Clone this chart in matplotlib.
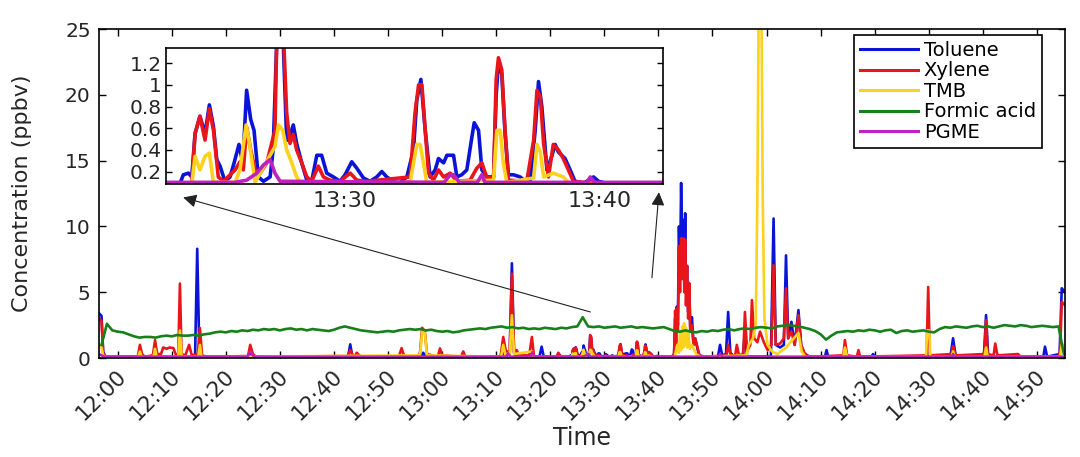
import numpy as np
import matplotlib.pyplot as plt
import matplotlib.transforms as mtransforms
from matplotlib.ticker import MultipleLocator, FixedLocator, FuncFormatter

toluene_min = [-3.46, -3.0, -2.7, -2.3, 3.8, 4.1, 4.4, 14.3, 14.7, 15.1, 15.5, 24.1, 24.5, 24.9, 42.6,
               43.0, 43.4, 56.1, 56.5, 56.9, 59.3, 59.6, 59.9, 70.9, 71.3, 71.7, 72.5, 72.9, 73.3, 73.7,
               76.3, 76.6, 76.9, 78.0, 78.4, 78.8, 81.2, 81.5, 81.8,
               83.00, 83.55, 83.68, 83.88, 84.01, 84.14, 84.33, 84.53, 84.70, 84.86, 84.99, 85.12, 85.31,
               85.51, 85.67, 85.86, 86.01, 86.16, 86.32, 86.45, 86.62, 86.82, 87.08, 87.20, 87.37, 87.58,
               87.73, 87.80, 87.99, 88.12, 88.32, 88.52, 88.71, 88.91, 89.10, 89.30, 89.56, 89.82, 90.02,
               90.28, 90.48, 90.74, 91.00, 91.26, 91.46, 91.65, 91.92, 92.11, 92.44, 92.70, 92.83, 92.99,
               93.16, 93.35, 93.55, 93.68, 93.88, 94.01, 94.27, 94.40, 94.59, 94.79, 94.99, 95.08, 95.25,
               95.38, 95.58, 95.84, 95.94, 96.03, 96.16, 96.29, 96.42, 96.62, 96.88, 97.08, 97.27, 97.47,
               97.60, 97.73, 97.93, 98.12, 98.25, 98.38, 98.64, 98.84, 99.03, 99.36, 99.76, 99.95, 100.29,
               102.48, 102.9, 103.1, 103.25, 103.4, 103.6, 103.8, 104.0, 104.2, 104.4, 104.6, 104.8,
               104.95, 105.1, 105.3, 105.5, 105.7, 105.9, 106.2, 106.5, 106.8, 107.5, 108.5,
               111.0, 111.4, 111.8, 112.5, 112.9, 113.3, 113.8, 115.6, 116.0, 116.4, 120.8, 121.3, 121.7,
               122.5, 123.2, 123.6, 124.0, 124.6, 125.2, 125.9, 126.4, 127.0, 128.0, 130.8, 131.1, 131.4,
               139.4, 139.7, 140.0, 154.0, 154.5, 155.0, 160.2, 160.6, 161.0, 171.2, 171.5, 171.9, 174.2,
               174.6, 175.2]
toluene_ppb = [3.4, 3.2, 0.5, 0.1, 0.1, 0.3, 0.1, 0.1, 8.3, 0.3, 0.1, 0.1, 0.3, 0.1, 0.1,
               1.04, 0.1, 0.1, 0.4, 0.1, 0.1, 0.2, 0.1, 0.1, 0.5, 0.1, 0.3, 7.2, 0.4, 0.1,
               0.1, 0.4, 0.1, 0.1, 0.86, 0.1, 0.1, 0.3, 0.1,
               0.09, 0.09, 0.17, 0.185, 0.15, 0.55, 0.71, 0.55, 0.815, 0.615, 0.31, 0.25, 0.11,
               0.15, 0.28, 0.45, 0.28, 0.95, 0.68, 0.58, 0.15, 0.11, 0.15, 0.4, 1.6, 1.5,
               0.49, 0.49, 0.63, 0.46, 0.28, 0.12, 0.11, 0.35, 0.35, 0.185, 0.15, 0.11, 0.17,
               0.29, 0.23, 0.14, 0.11, 0.15, 0.2, 0.15, 0.11, 0.09, 0.15, 0.4, 0.86, 1.05,
               0.58, 0.15, 0.215, 0.32, 0.28, 0.35, 0.35, 0.15, 0.17, 0.215, 0.52, 0.65, 0.58,
               0.215, 0.15, 0.15, 0.9, 1.2, 1.1, 0.55, 0.17, 0.17, 0.15, 0.11, 0.09, 0.58,
               1.03, 0.8, 0.215, 0.34, 0.45, 0.38, 0.32, 0.215, 0.11, 0.09, 0.15, 0.11, 0.09,
               0.09, 0.3, 3.0, 1.2, 3.9, 2.5, 10.0, 6.0, 13.3, 8.0, 10.5, 6.0,
               11.0, 5.0, 7.0, 3.5, 5.5, 2.0, 3.1, 1.0, 1.5, 0.2, 0.1,
               0.1, 1.0, 0.2, 0.3, 3.5, 0.4, 0.2, 0.1, 2.0, 0.1, 0.1, 10.6, 1.0,
               0.8, 1.0, 7.8, 1.5, 2.75, 1.0, 3.64, 1.0, 0.3, 0.1, 0.1, 0.6, 0.1,
               0.1, 0.3, 0.1, 0.1, 1.5, 0.1, 0.1, 3.26, 0.1, 0.1, 0.86, 0.1, 0.3,
               5.3, 5.0]

xylene_min = [-3.46, -3.0, -2.7, -2.3, 3.7, 4.1, 4.5, 5.0, 6.5, 6.9, 7.3, 8.0, 8.4, 9.0, 9.6, 10.3, 10.8,
              11.2, 11.5, 11.8, 12.5, 13.2, 13.7, 14.8, 15.2, 15.6, 16.5, 24.1, 24.5, 25.0, 25.6, 42.5,
              43.0, 43.5, 43.8, 44.2, 45.0, 52.0, 52.5, 53.0, 55.6, 55.9, 56.3, 56.8, 57.2, 59.2, 59.6,
              60.0, 63.5, 63.9, 64.3, 70.8, 71.3, 71.8, 72.5, 72.9, 73.3, 73.8, 74.2, 76.1, 76.6, 77.0,
              81.1, 81.5, 82.0,
              83.00, 84.01, 84.14, 84.33, 84.53, 84.70, 84.86, 85.05, 85.25, 85.71, 85.90, 86.03, 86.16,
              86.32, 86.49, 86.69, 86.95, 87.27, 87.37, 87.58, 87.73, 87.86, 87.99, 88.12, 88.32, 88.52,
              88.71, 88.97, 89.17, 89.43, 89.82, 90.22, 90.48, 90.87, 92.57, 92.76, 92.90, 93.03, 93.16,
              93.29, 93.48, 93.68, 93.88, 94.14, 94.40, 94.92, 95.18, 95.38, 95.58, 95.84, 95.94, 96.03,
              96.16, 96.29, 96.42, 97.14, 97.41, 97.54, 97.67, 97.80, 97.99, 98.18, 98.38, 98.57, 98.77,
              98.97, 99.76, 102.48, 102.9, 103.1, 103.25, 103.4, 103.6, 103.8, 104.0, 104.2, 104.4, 104.6,
              104.8, 104.95, 105.1, 105.3, 105.5, 105.7, 105.9, 106.2, 106.5, 106.8, 107.6, 108.5,
              112.6, 112.9, 113.4, 114.2, 114.5, 114.9, 115.7, 116.0, 116.4, 117.0, 117.3,
              117.7, 118.3, 118.8, 119.5, 120.2, 120.9, 121.3, 121.7, 122.5, 123.2, 123.6, 124.0, 124.6,
              125.2, 125.9, 126.4, 127.0, 127.8, 134.2, 134.5, 134.9, 136.7, 137.0, 137.3, 149.6, 149.9,
              150.2, 154.2, 154.5, 155.0, 160.3, 160.6, 160.9, 162.0, 162.3, 162.7, 166.5, 167.0, 174.0,
              174.3, 174.6, 175.2]
xylene_ppb = [3.0, 2.8, 0.4, 0.09, 0.1, 1.0, 0.3, 0.1, 0.2, 1.36, 0.3, 0.3, 0.8, 0.7, 0.8, 0.75, 0.2,
              0.3, 5.66, 0.3, 0.2, 1.0, 0.2, 0.3, 2.27, 0.2, 0.09, 0.15, 1.0, 0.3, 0.09, 0.15,
              0.6, 0.2, 0.1, 0.4, 0.09, 0.1, 0.75, 0.1, 0.1, 0.4, 2.3, 2.0, 0.3, 0.1, 0.73,
              0.2, 0.09, 0.5, 0.1, 0.1, 1.6, 0.5, 0.5, 6.4, 0.4, 0.6, 0.2, 0.2, 1.6, 0.1,
              0.09, 0.4, 0.09,
              0.09, 0.09, 0.55, 0.71, 0.49, 0.78, 0.58, 0.15, 0.11, 0.215, 0.29, 0.215, 0.61,
              0.4, 0.215, 0.185, 0.28, 0.58, 1.75, 1.6, 0.74, 0.46, 0.54, 0.4, 0.28, 0.15,
              0.11, 0.25, 0.15, 0.12, 0.11, 0.185, 0.12, 0.11, 0.15, 0.74, 1.0, 1.0, 0.58,
              0.185, 0.12, 0.215, 0.15, 0.185, 0.11, 0.12, 0.23, 0.28, 0.14, 0.15, 1.05, 1.25,
              1.14, 0.58, 0.12, 0.11, 0.49, 0.95, 0.89, 0.46, 0.15, 0.45, 0.4, 0.32, 0.215,
              0.11, 0.09, 0.09, 0.3, 3.6, 1.0, 3.77, 2.0, 8.5, 5.0, 9.1, 6.0, 9.1,
              5.0, 9.0, 4.0, 7.0, 3.0, 5.7, 2.0, 2.5, 1.0, 1.5, 0.2, 0.09,
              0.2, 1.0, 0.2, 0.2, 1.0, 0.2, 0.3, 3.5, 0.5, 1.0, 4.4,
              1.5, 1.2, 2.0, 1.2, 0.6, 1.0, 7.05, 1.0, 1.1, 1.5, 5.3, 1.5, 2.0,
              1.0, 3.26, 1.0, 0.4, 0.09, 0.2, 1.36, 0.2, 0.1, 0.6, 0.1, 0.2, 5.4,
              0.2, 0.3, 0.9, 0.2, 0.3, 2.88, 0.3, 0.2, 1.1, 0.2, 0.3, 0.1, 0.1,
              0.5, 4.27, 4.0]

tmb_min = [-3.46, -3.0, -2.7, -2.3, 3.8, 4.1, 4.4, 6.6, 6.9, 7.2, 11.2, 11.5, 11.8, 14.9, 15.2, 15.5,
           55.9, 56.3, 56.8, 57.2, 70.9, 71.3, 71.7, 72.5, 72.9, 73.3, 76.6, 77.0,
           83.0, 84.01, 84.14, 84.33, 84.53, 84.70, 84.86, 85.71, 85.90, 86.14, 86.29, 86.49, 87.27,
           87.41, 87.58, 87.73, 87.93, 88.12, 88.32, 92.57, 92.83, 92.96, 93.09, 93.22, 95.84, 95.97,
           96.10, 96.22, 96.36, 97.41, 97.54, 97.67, 97.80, 98.18, 98.57, 98.84, 102.48,
           103.0, 103.5, 103.8, 104.0, 104.2, 104.4, 104.6, 104.75, 104.9, 105.1, 105.3, 105.5, 105.8,
           106.2, 107.0, 107.8, 116.3, 116.7, 117.5, 118.0, 118.3,
           118.6, 119.0, 119.3, 119.6, 120.2, 121.0, 122.0, 123.6, 125.9, 126.5, 127.2, 134.2, 134.5,
           134.9, 149.5, 149.7, 150.1, 150.3, 154.2, 154.5, 154.8, 160.3, 160.6, 160.9, 174.3, 174.6,
           175.2]
tmb_ppb = [1.0, 0.8, 0.2, 0.08, 0.08, 0.5, 0.08, 0.08, 0.7, 0.08, 0.1, 2.1, 0.1, 0.1, 1.0, 0.08,
           0.2, 2.0, 1.9, 0.2, 0.1, 1.0, 0.2, 0.3, 3.26, 0.3, 0.5, 0.08,
           0.08, 0.08, 0.34, 0.215, 0.34, 0.37, 0.1, 0.1, 0.215, 0.63, 0.43, 0.1, 0.43,
           0.63, 0.58, 0.4, 0.28, 0.15, 0.08, 0.1, 0.45, 0.45, 0.28, 0.1, 0.12, 0.58,
           0.58, 0.28, 0.1, 0.14, 0.45, 0.38, 0.15, 0.185, 0.15, 0.08, 0.08,
           0.1, 1.0, 0.4, 2.0, 0.6, 2.4, 0.8, 2.65, 1.0, 2.3, 0.8, 2.0, 0.7,
           1.0, 0.3, 0.08, 0.2, 1.0, 1.5, 2.5, 12.0,
           30.0, 30.0, 12.0, 3.0, 1.0, 0.5, 0.3, 0.8, 1.9, 0.5, 0.08, 0.08, 0.8,
           0.08, 0.1, 2.1, 2.1, 0.1, 0.08, 0.5, 0.08, 0.08, 0.8, 0.08, 0.1, 1.0,
           1.0]

# formic acid on a one minute grid from 11:57 (-3) to 14:55 (175)
formic_min = list(range(-3, 176))
formic_ppb = [1.0, 2.6, 2.1, 2.0, 1.95, 1.8, 1.65, 1.55, 1.6, 1.6, 1.55, 1.65, 1.7, 1.65, 1.75, 1.7,
              1.7, 1.75, 1.7, 1.8, 1.85, 1.95, 2.0, 1.95, 2.05, 2.0, 2.1, 2.05, 2.15, 2.1, 2.2, 2.15,
              2.2, 2.1, 2.2, 2.25, 2.15, 2.2, 2.1, 2.2, 2.15, 2.1, 2.05, 2.15, 2.3, 2.4, 2.3, 2.2,
              2.1, 2.05, 2.0, 1.95, 2.0, 2.05, 2.0, 2.1, 2.15, 2.2, 2.15, 2.2, 2.1, 2.15, 2.05, 2.0,
              2.05, 1.95, 2.0, 2.1, 2.15, 2.2, 2.25, 2.2, 2.3, 2.35, 2.4, 2.3, 2.35, 2.25, 2.3, 2.2,
              2.25, 2.2, 2.3, 2.25, 2.2, 2.3, 2.25, 2.35, 2.4, 3.1, 2.4, 2.35, 2.4, 2.3, 2.35, 2.4,
              2.3, 2.35, 2.4, 2.3, 2.35, 2.3, 2.25, 2.3, 2.35, 2.2, 2.05, 2.0, 2.1, 2.0, 1.95, 2.05,
              2.0, 2.1, 2.05, 2.15, 2.2, 2.1, 2.2, 2.25, 2.2, 2.3, 2.35, 2.3, 2.25, 2.4, 2.45, 2.5,
              2.45, 2.4, 2.3, 2.2, 2.05, 1.8, 1.4, 1.7, 1.95, 2.0, 2.05, 2.0, 2.1, 2.05, 2.15, 2.1,
              2.0, 2.1, 2.15, 1.9, 2.05, 2.1, 2.0, 2.05, 2.1, 2.0, 1.95, 2.2, 2.35, 2.3, 2.4, 2.35,
              2.3, 2.4, 2.45, 2.35, 2.4, 2.3, 2.4, 2.5, 2.45, 2.4, 2.5, 2.45, 2.35, 2.4, 2.45, 2.4,
              2.35, 2.4, 0.3]

pgme_min = [-3.46, -2.5, 24.0, 24.5, 25.2, 71.8, 72.2, 72.6, 76.3, 76.7, 77.1, 83.0, 85.7, 86.16, 86.56,
            86.82, 87.08, 87.27, 87.47, 93.9, 94.14, 94.27, 94.5, 95.2, 95.38, 95.5, 99.5, 99.63, 99.8,
            111.0, 111.4, 111.8, 154.2, 154.5, 154.8, 175.2]
pgme_ppb = [0.3, 0.1, 0.1, 0.5, 0.1, 0.1, 0.35, 0.1, 0.1, 0.45, 0.1, 0.1, 0.1, 0.12, 0.185,
            0.26, 0.31, 0.185, 0.11, 0.1, 0.17, 0.17, 0.1, 0.1, 0.17, 0.1, 0.1, 0.15, 0.1,
            0.1, 0.3, 0.1, 0.1, 0.3, 0.1, 0.1]

names = ['Toluene', 'Xylene', 'TMB', 'Formic acid', 'PGME']
colors = ['#0a14d8', '#e8151b', '#fcd21c', '#17801a', '#c020c0']
series = [(toluene_min, toluene_ppb), (xylene_min, xylene_ppb), (tmb_min, tmb_ppb),
          (formic_min, formic_ppb), (pgme_min, pgme_ppb)]

txt = '#262626'


def hhmm(m, pos=None):
    m = int(round(m))
    return '%d:%02d' % (12 + m // 60, m % 60)


fig = plt.figure(figsize=(10.8, 4.57), dpi=100)

# main time series
ax = fig.add_axes([0.0917, 0.2166, 0.8944, 0.7199])
for (t, v), name, c in zip(series, names, colors):
    ax.plot(t, v, color=c, lw=1.9, label=name, solid_joinstyle='round')
ax.set_xlim(-3.46, 175.2)
ax.set_ylim(0, 25)
ax.xaxis.set_major_locator(MultipleLocator(10))
ax.xaxis.set_major_formatter(FuncFormatter(hhmm))
ax.yaxis.set_major_locator(MultipleLocator(5))
ax.tick_params(direction='in', top=True, right=True, length=5, width=1, labelsize=14.5,
               labelcolor=txt, pad=6)
ax.tick_params(axis='x', labelsize=15.5)
shift = mtransforms.ScaledTranslation(5 / 100, -7 / 100, fig.dpi_scale_trans)
for lab in ax.get_xticklabels():
    lab.set_rotation(45)
    lab.set_ha('right')
    lab.set_va('center')
    lab.set_rotation_mode('anchor')
    lab.set_transform(lab.get_transform() + shift)
for s in ax.spines.values():
    s.set_linewidth(1.2)
ax.set_xlabel('Time', fontsize=17, color=txt, labelpad=1)
ax.set_ylabel('Concentration (ppbv)', fontsize=16, color=txt, labelpad=24)

leg = ax.legend(loc='upper right', bbox_to_anchor=(0.976, 0.982), borderaxespad=0,
                fontsize=14, fancybox=False, edgecolor='k', framealpha=1,
                handlelength=3.0, handletextpad=0.3, labelspacing=0.08, borderpad=0.3)
leg.get_frame().set_linewidth(1.2)
for line in leg.get_lines():
    line.set_linewidth(2.2)

# arrows from the zoomed time window to the inset
arrow = dict(arrowstyle='-|>', color='#222222', lw=0.8, mutation_scale=20,
             shrinkA=0, shrinkB=0)
ax.annotate('', xy=(12.1, 12.2), xytext=(87.4, 3.5), arrowprops=arrow)
ax.annotate('', xy=(100.1, 12.6), xytext=(98.8, 6.1), arrowprops=arrow)

# inset: 13:23 - 13:42.5
ins = fig.add_axes([0.1537, 0.5974, 0.4602, 0.2976])
for (t, v), c in zip(series, colors):
    if c == colors[3]:
        continue
    ins.plot(t, v, color=c, lw=2.6, solid_joinstyle='round')
ins.set_xlim(83.0, 102.48)
ins.set_ylim(0.085, 1.34)
ins.xaxis.set_major_locator(FixedLocator([90, 100]))
ins.xaxis.set_major_formatter(FuncFormatter(hhmm))
ins.yaxis.set_major_locator(FixedLocator([0.2, 0.4, 0.6, 0.8, 1.0, 1.2]))
ins.yaxis.set_major_formatter(FuncFormatter(lambda v, p: '%g' % v))
ins.tick_params(direction='in', right=True, length=4, width=1, labelsize=14.5,
                labelcolor=txt, pad=3)
ins.tick_params(axis='x', length=0, pad=5, labelsize=16)
for s in ins.spines.values():
    s.set_linewidth(1.2)

fig.savefig('out.png', dpi=100)
